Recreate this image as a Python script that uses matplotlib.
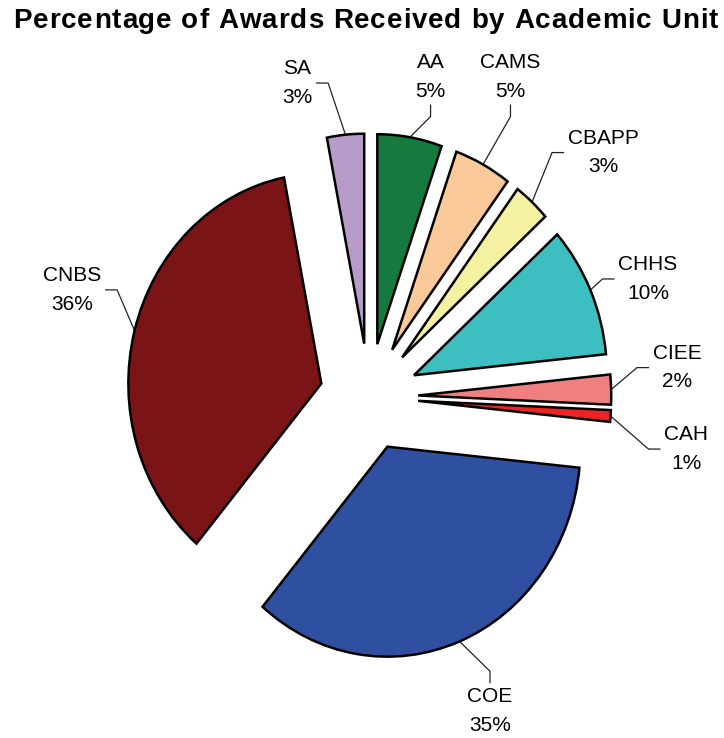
import numpy as np
import matplotlib
matplotlib.use("Agg")
import matplotlib.pyplot as plt
from matplotlib.font_manager import FontProperties

# Share of awards (%) per academic unit, clockwise from 12 o'clock
units = ["AA", "CAMS", "CBAPP", "CHHS", "CIEE", "CAH", "COE", "CNBS", "SA"]
shares = [5.4, 4.8, 3.1, 10.1, 2.3, 0.9, 34.6, 35.7, 3.1]
colors = ["#167A3E", "#F9C99A", "#F4F1A1", "#3DBFC2", "#F08080",
          "#EE2424", "#2F4FA0", "#7A1416", "#B79BC8"]

title = "Percentage of Awards Received by Academic Unit"

# label centre (pie-radius units) and the side of the label where the leader joins
label_layout = {
    "AA": (0.319, 1.524, "bottom"),
    "CAMS": (0.733, 1.524, "bottom"),
    "CBAPP": (1.215, 1.164, "left"),
    "CHHS": (1.446, 0.562, "left"),
    "CIEE": (1.598, 0.140, "left"),
    "CAH": (1.645, -0.248, "left"),
    "COE": (0.627, -1.495, "top"),
    "CNBS": (-1.539, 0.510, "right"),
    "SA": (-0.373, 1.495, "right"),
}

EXPLODE = 0.255
FONT = "Liberation Sans"
W_PX, H_PX = 724, 738

fig = plt.figure(figsize=(W_PX / 100, H_PX / 100), dpi=100)
ax = fig.add_axes([0, 0, 1, 1])

wedges, _ = ax.pie(
    shares, colors=colors, startangle=90, counterclock=False,
    explode=[EXPLODE] * len(shares), radius=1.0,
    wedgeprops=dict(edgecolor="black", linewidth=1.8),
)
# slightly taller than wide, as in the original worksheet chart
ax.set_aspect("auto")
ax.set_xlim(-369 / 193, 355 / 193)
ax.set_ylim(-341 / 210, 397 / 210)
ax.axis("off")

texts = []
for unit, share in zip(units, shares):
    x, y, side = label_layout[unit]
    t = ax.text(x, y, f"{unit}\n{share:.0f}%", ha="center", va="center",
                multialignment="center", fontsize=15, family=FONT,
                linespacing=1.62)
    texts.append((t, side))

fig.canvas.draw()
renderer = fig.canvas.get_renderer()
to_data = ax.transData.inverted()

# title set with open letter spacing, spanning most of the width
title_fp = FontProperties(family=FONT, weight="bold", size=20)
widths = [renderer.get_text_width_height_descent(ch, title_fp, ismath=False)[0]
          for ch in title]
target_w = 705.0
spacing = (target_w - sum(widths)) / (len(title) - 1)
x_px = 365.5 - target_w / 2
y_fig = 1 - 21 / H_PX
for ch, w in zip(title, widths):
    fig.text(x_px / W_PX, y_fig, ch, ha="left", va="center",
             fontproperties=title_fp)
    x_px += w + spacing

GAP, LEG = 4, 12
for w, (t, side) in zip(wedges, texts):
    mid = np.deg2rad((w.theta1 + w.theta2) / 2)
    start = (1 + EXPLODE) * np.array([np.cos(mid), np.sin(mid)])
    bb = t.get_window_extent(renderer)
    xc, yc = (bb.x0 + bb.x1) / 2, (bb.y0 + bb.y1) / 2
    if side == "left":
        end = (bb.x0 - GAP, yc); elbow = (end[0] - LEG, yc)
    elif side == "right":
        end = (bb.x1 + GAP, yc); elbow = (end[0] + LEG, yc)
    elif side == "bottom":
        end = (xc, bb.y0 - GAP); elbow = (xc, end[1] - LEG)
    else:
        end = (xc, bb.y1 + GAP); elbow = (xc, end[1] + LEG)
    pts = to_data.transform([elbow, end])
    ax.plot([start[0], pts[0][0], pts[1][0]], [start[1], pts[0][1], pts[1][1]],
            color="#222222", linewidth=0.9, solid_capstyle="butt", zorder=0.5)

fig.savefig("out.png", dpi=100)
